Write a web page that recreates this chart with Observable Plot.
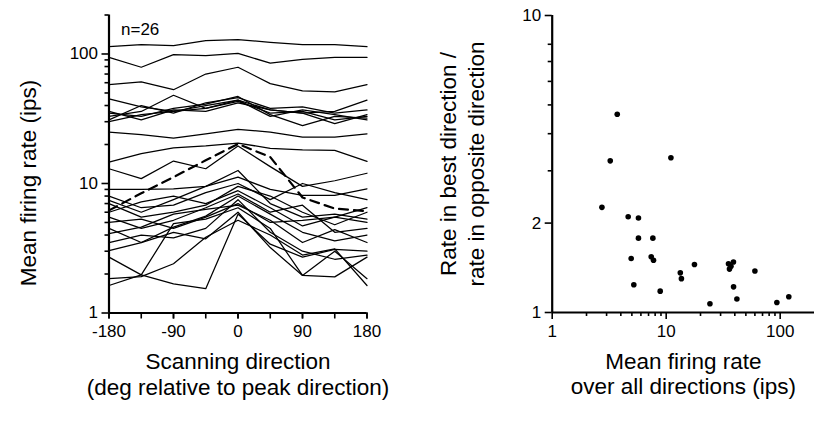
<!DOCTYPE html>
<html><head><meta charset="utf-8">
<script src="https://cdn.jsdelivr.net/npm/d3@7"></script>
<script src="https://cdn.jsdelivr.net/npm/@observablehq/plot@0.6"></script>
<style>
html,body{margin:0;padding:0;background:#fff;}
#wrap{display:flex;width:818px;height:422px;}
</style></head><body><div id="wrap"></div>
<script>
// ---- Left panel data: firing rate (ips) vs scanning direction for 26 cells ----
const directions = [-180, -135, -90, -45, 0, 45, 90, 135, 180];
const cellRates = [
  [114, 118, 116, 127, 129, 123, 118, 118, 114],
  [94, 79, 99, 97, 101, 85, 91, 94, 94],
  [58, 61, 53, 70, 79, 59, 52, 51, 58],
  [45, 39, 36, 38, 44, 37, 35, 36, 44],
  [33, 36, 48, 38, 43, 35, 36, 31, 33],
  [31, 40, 35, 42, 46, 38, 39, 35, 37],
  [35, 33, 38, 41, 47, 34, 28, 33, 32],
  [36, 31, 37, 36, 42, 37, 35, 29, 34],
  [30, 34, 36, 40, 44, 33, 37, 34, 31],
  [24.9, 23.8, 22.4, 24.2, 26.2, 24.9, 22.8, 22.8, 24.2],
  [14.6, 17.0, 18.8, 19.5, 20.5, 18.7, 18.2, 18.0, 14.8],
  [13.0, 10.9, 14.9, 13.0, 19.5, 13.5, 9.5, 10.5, 12.0],
  [9.0, 9.0, 9.1, 9.5, 11.2, 9.0, 8.1, 8.1, 9.1],
  [7.4, 6.0, 7.5, 9.5, 12.6, 7.0, 5.5, 5.8, 5.3],
  [7.0, 5.5, 6.0, 6.8, 9.5, 8.0, 6.0, 4.8, 6.0],
  [6.0, 7.2, 8.0, 7.0, 8.8, 6.5, 4.7, 5.5, 6.5],
  [5.5, 4.5, 5.2, 6.5, 8.3, 6.0, 6.8, 4.2, 4.5],
  [5.0, 5.3, 4.5, 5.5, 7.0, 5.0, 5.2, 5.5, 5.0],
  [4.5, 3.5, 4.6, 5.6, 8.0, 5.8, 4.2, 3.6, 4.0],
  [4.1, 4.6, 5.8, 6.3, 6.8, 5.2, 3.5, 4.4, 3.5],
  [2.7, 1.97, 1.68, 1.54, 5.8, 3.4, 2.7, 3.1, 3.0],
  [1.63, 1.97, 4.9, 5.3, 6.5, 4.5, 1.95, 1.9, 2.7],
  [1.84, 1.91, 2.4, 3.85, 5.2, 4.0, 2.8, 3.13, 1.63],
  [3.03, 3.5, 4.2, 3.74, 6.0, 3.2, 1.95, 3.0, 1.84],
  [3.5, 4.0, 3.8, 4.5, 7.5, 4.2, 3.0, 2.6, 2.8],
  [8.0, 6.5, 6.8, 8.5, 10.0, 7.5, 10.0, 8.5, 7.5]
];
const meanCurve = [6.2, 8.4, 11.2, 15.1, 20.2, 16.0, 7.8, 6.4, 6.1];
const dirTicks = [-180, -135, -90, -45, 0, 45, 90, 135, 180];
const dirLabels = [-180, -90, 0, 90, 180];
const rateMajor = [1, 10, 100];
const rateMinor = [2, 3, 4, 5, 6, 7, 8, 9, 20, 30, 40, 50, 60, 70, 80, 90, 200];

// ---- Right panel data: tuning ratio vs mean firing rate ----
const scatterMeanRate = [3.72, 3.23, 11.0, 2.73, 4.64, 5.71, 5.71, 7.64, 4.93, 7.39, 7.74, 5.20, 8.86,
  13.3, 13.6, 17.7, 24.2, 35.2, 38.9, 35.9, 39.0, 41.7, 60.0, 93.5, 119, 37.0];
const scatterRatio = [4.65, 3.24, 3.32, 2.26, 2.10, 2.08, 1.78, 1.78, 1.52, 1.54, 1.50, 1.24, 1.18,
  1.36, 1.30, 1.45, 1.07, 1.46, 1.48, 1.40, 1.22, 1.11, 1.38, 1.08, 1.13, 1.43];
const ratioMajor = [1, 2, 10];
const ratioMinor = [3, 4, 5, 6, 7, 8];
const meanMajor = [1, 10, 100];
const meanMinor = [2, 3, 4, 5, 6, 7, 8, 9, 20, 30, 40, 50, 60, 70, 80, 90];

const FONT = "'Liberation Sans', Arial, Helvetica, sans-serif";
const TICK_FS = 17, TITLE_FS = 22.5;

const rows = cellRates.flatMap((r, i) => r.map((v, j) => ({cell: i, dir: directions[j], rate: v})));
const meanRows = meanCurve.map((v, j) => ({dir: directions[j], rate: v}));
const points = scatterMeanRate.map((x, i) => ({x, y: scatterRatio[i]}));

const left = Plot.plot({
  width: 409, height: 422,
  marginLeft: 108.5, marginRight: 42.5, marginTop: 14.5, marginBottom: 109.5,
  x: {domain: [-180, 180]},
  y: {type: "log", domain: [1, 200]},
  style: {fontFamily: FONT, fontSize: "16px", color: "black", background: "white"},
  marks: [
    Plot.axisY(rateMinor, {tickSize: 4, tickFormat: () => "", label: null, strokeWidth: 1.6}),
    Plot.axisY(rateMajor, {tickSize: 7, tickPadding: 4, tickFormat: d => String(d), label: null, strokeWidth: 1.6, fontSize: TICK_FS}),
    Plot.axisX(dirTicks, {tickSize: 6, tickFormat: () => "", label: null, strokeWidth: 1.6}),
    Plot.axisX(dirLabels, {tickSize: 6, tickPadding: 6, tickFormat: d => String(d), label: null, strokeWidth: 1.6, fontSize: TICK_FS}),
    Plot.ruleX([-180], {y1: 1, y2: 200, strokeWidth: 2.2}),
    Plot.ruleY([1], {x1: -180, x2: 180, strokeWidth: 2.2}),
    Plot.line(rows, {x: "dir", y: "rate", z: "cell", stroke: "black", strokeWidth: 1.25}),
    Plot.line(meanRows, {x: "dir", y: "rate", stroke: "black", strokeWidth: 2.2, strokeDasharray: "9,6"}),
    Plot.text([`n=${cellRates.length}`], {frameAnchor: "top-left", dx: 12, dy: 8, fontSize: 17, textAnchor: "start", lineAnchor: "top"}),
    Plot.text(["Mean firing rate (ips)"], {frameAnchor: "left", rotate: -90, dx: -80, dy: 19, fontSize: TITLE_FS, textAnchor: "middle", lineAnchor: "middle"}),
    Plot.text(["Scanning direction\n(deg relative to peak direction)"], {frameAnchor: "bottom", dy: 61, fontSize: TITLE_FS, lineHeight: 1.12, textAnchor: "middle", lineAnchor: "middle"})
  ]
});

const right = Plot.plot({
  width: 409, height: 422,
  marginLeft: 142.7, marginRight: 4, marginTop: 15, marginBottom: 110,
  x: {type: "log", domain: [1, 200]},
  y: {type: "log", domain: [1, 10]},
  style: {fontFamily: FONT, fontSize: "16px", color: "black", background: "white"},
  marks: [
    Plot.axisY(ratioMinor, {tickSize: 4, tickFormat: () => "", label: null, strokeWidth: 1.6}),
    Plot.axisY(ratioMajor, {tickSize: 7, tickPadding: 4, tickFormat: d => String(d), label: null, strokeWidth: 1.6, fontSize: TICK_FS}),
    Plot.axisX(meanMinor, {tickSize: 4, tickFormat: () => "", label: null, strokeWidth: 1.6}),
    Plot.axisX(meanMajor, {tickSize: 7, tickPadding: 5, tickFormat: d => String(d), label: null, strokeWidth: 1.6, fontSize: TICK_FS}),
    Plot.ruleX([1], {y1: 1, y2: 10, strokeWidth: 2.2}),
    Plot.ruleY([1], {x1: 1, x2: 200, strokeWidth: 2.2}),
    Plot.dot(points, {x: "x", y: "y", r: 2.8, fill: "black", stroke: null}),
    Plot.text(["Rate in best direction /\nrate in opposite direction"], {frameAnchor: "left", rotate: -90, dx: -91, fontSize: TITLE_FS, lineHeight: 1.22, textAnchor: "middle", lineAnchor: "middle"}),
    Plot.text(["Mean firing rate\nover all directions (ips)"], {frameAnchor: "bottom", dy: 61, fontSize: TITLE_FS, lineHeight: 1.12, textAnchor: "middle", lineAnchor: "middle"})
  ]
});

document.getElementById("wrap").append(left, right);
</script></body></html>
